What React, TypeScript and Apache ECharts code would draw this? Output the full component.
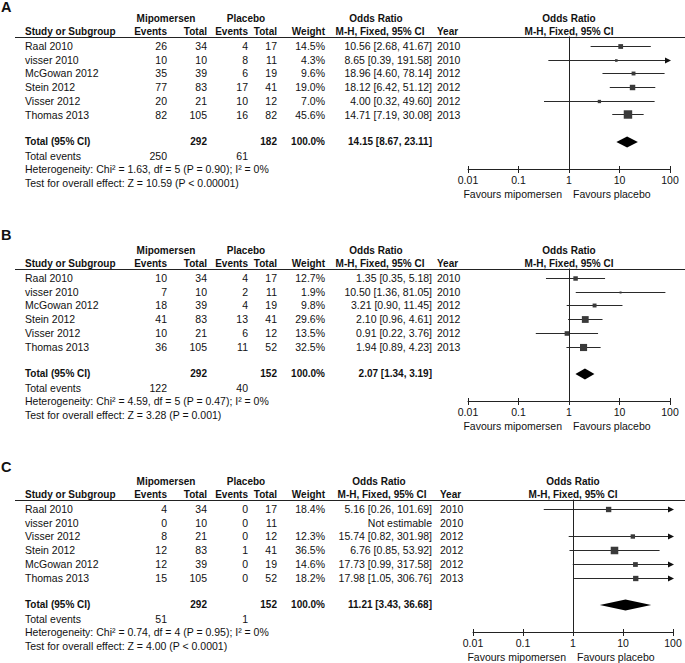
import React, { useEffect, useRef } from "react";
import * as echarts from "echarts";

const XMIN = 0.01;
const XMAX = 100;

// ---------- Panel A ----------
const studiesA = ["Raal 2010", "visser 2010", "McGowan 2012", "Stein 2012", "Visser 2012", "Thomas 2013"];
const mipEventsA = [26, 10, 35, 77, 20, 82];
const mipTotalA = [34, 10, 39, 83, 21, 105];
const plaEventsA = [4, 8, 6, 17, 10, 16];
const plaTotalA = [17, 11, 19, 41, 12, 82];
const weightA = [14.5, 4.3, 9.6, 19.0, 7.0, 45.6];
const orA = [10.56, 8.65, 18.96, 18.12, 4.0, 14.71];
const loA = [2.68, 0.39, 4.6, 6.42, 0.32, 7.19];
const hiA = [41.67, 191.58, 78.14, 51.12, 49.6, 30.08];
const yearA = [2010, 2010, 2012, 2012, 2012, 2013];
const totalsA = [292, 182];
const totalEventsA = [250, 61];
const pooledA = [14.15, 8.67, 23.11];
const hetA = "Heterogeneity: Chi\u00b2 = 1.63, df = 5 (P = 0.90); I\u00b2 = 0%";
const testA = "Test for overall effect: Z = 10.59 (P < 0.00001)";

// ---------- Panel B ----------
const studiesB = ["Raal 2010", "visser 2010", "McGowan 2012", "Stein 2012", "Visser 2012", "Thomas 2013"];
const mipEventsB = [10, 7, 18, 41, 10, 36];
const mipTotalB = [34, 10, 39, 83, 21, 105];
const plaEventsB = [4, 2, 4, 13, 6, 11];
const plaTotalB = [17, 11, 19, 41, 12, 52];
const weightB = [12.7, 1.9, 9.8, 29.6, 13.5, 32.5];
const orB = [1.35, 10.5, 3.21, 2.1, 0.91, 1.94];
const loB = [0.35, 1.36, 0.9, 0.96, 0.22, 0.89];
const hiB = [5.18, 81.05, 11.45, 4.61, 3.76, 4.23];
const yearB = [2010, 2010, 2012, 2012, 2012, 2013];
const totalsB = [292, 152];
const totalEventsB = [122, 40];
const pooledB = [2.07, 1.34, 3.19];
const hetB = "Heterogeneity: Chi\u00b2 = 4.59, df = 5 (P = 0.47); I\u00b2 = 0%";
const testB = "Test for overall effect: Z = 3.28 (P = 0.001)";

// ---------- Panel C ----------
const studiesC = ["Raal 2010", "visser 2010", "Visser 2012", "Stein 2012", "McGowan 2012", "Thomas 2013"];
const mipEventsC = [4, 0, 8, 12, 12, 15];
const mipTotalC = [34, 10, 21, 83, 39, 105];
const plaEventsC = [0, 0, 0, 1, 0, 0];
const plaTotalC = [17, 11, 12, 41, 19, 52];
const weightC = [18.4, null, 12.3, 36.5, 14.6, 18.2];
const orC = [5.16, null, 15.74, 6.76, 17.73, 17.98];
const loC = [0.26, null, 0.82, 0.85, 0.99, 1.05];
const hiC = [101.69, null, 301.98, 53.92, 317.58, 306.76];
const yearC = [2010, 2010, 2012, 2012, 2012, 2013];
const totalsC = [292, 152];
const totalEventsC = [51, 1];
const pooledC = [11.21, 3.43, 36.68];
const hetC = "Heterogeneity: Chi\u00b2 = 0.74, df = 4 (P = 0.95); I\u00b2 = 0%";
const testC = "Test for overall effect: Z = 4.00 (P < 0.0001)";

// ---------- Layout (positions only) ----------
const ROW_H = 13.7;
const FONT = '"Liberation Sans", Arial, Helvetica, sans-serif';
const layoutA = { label: "A", labelY: 7, base: 46, plotLeft: 468, plotWidth: 202, ciRight: 432, yearLeft: 437, orHead: 376, mhHead: 380 };
const layoutB = { label: "B", labelY: 235, base: 278, plotLeft: 468, plotWidth: 202, ciRight: 432, yearLeft: 437, orHead: 376, mhHead: 380 };
const layoutC = { label: "C", labelY: 467, base: 509, plotLeft: 473, plotWidth: 200, ciRight: 432, yearLeft: 440, orHead: 379, mhHead: 382 };

const COL = { study: 25, mipEv: 167, mipTot: 207, plaEv: 248, plaTot: 277, weight: 325, mipHead: 166, plaHead: 246 };

const panels = [
  { lay: layoutA, studies: studiesA, me: mipEventsA, mt: mipTotalA, pe: plaEventsA, pt: plaTotalA, w: weightA, or: orA, lo: loA, hi: hiA, yr: yearA, tot: totalsA, tev: totalEventsA, pooled: pooledA, het: hetA, test: testA },
  { lay: layoutB, studies: studiesB, me: mipEventsB, mt: mipTotalB, pe: plaEventsB, pt: plaTotalB, w: weightB, or: orB, lo: loB, hi: hiB, yr: yearB, tot: totalsB, tev: totalEventsB, pooled: pooledB, het: hetB, test: testB },
  { lay: layoutC, studies: studiesC, me: mipEventsC, mt: mipTotalC, pe: plaEventsC, pt: plaTotalC, w: weightC, or: orC, lo: loC, hi: hiC, yr: yearC, tot: totalsC, tev: totalEventsC, pooled: pooledC, het: hetC, test: testC },
];

function txt(text: string, x: number, y: number, align: string = "left", bold = false, size = 10.5) {
  return {
    type: "text",
    x,
    y,
    silent: true,
    style: {
      text,
      fill: "#111",
      fontFamily: FONT,
      fontSize: size,
      fontWeight: bold ? "bold" : "normal",
      align,
      verticalAlign: "middle",
      textAlign: align,
      textVerticalAlign: "middle",
    },
  };
}

const fmtCI = (o: number, l: number, h: number) => `${o.toFixed(2)} [${l.toFixed(2)}, ${h.toFixed(2)}]`;

function buildOption() {
  const grid: any[] = [];
  const xAxis: any[] = [];
  const yAxis: any[] = [];
  const series: any[] = [];
  const graphic: any[] = [];

  panels.forEach((p, i) => {
    const L = p.lay;
    const b = L.base;
    const lineY = b - 9.5;
    const axisY = b + 123;
    const vline = L.plotLeft + L.plotWidth / 2;

    grid.push({ left: L.plotLeft, width: L.plotWidth, top: lineY, height: axisY - lineY });
    const axisBase = {
      type: "log",
      logBase: 10,
      min: XMIN,
      max: XMAX,
      splitNumber: 4,
      gridIndex: i,
      position: "bottom",
      splitLine: { show: false },
    };
    xAxis.push({
      ...axisBase,
      axisLine: { show: true, onZero: false, lineStyle: { color: "#222", width: 1 } },
      axisTick: { show: true, inside: false, length: 4, lineStyle: { color: "#222", width: 1 } },
      axisLabel: {
        show: true,
        margin: 5,
        color: "#111",
        fontFamily: FONT,
        fontSize: 10.5,
        showMinLabel: true,
        showMaxLabel: true,
        formatter: (v: number) => String(parseFloat(Number(v).toPrecision(3))),
      },
    });
    xAxis.push({
      ...axisBase,
      axisLine: { show: false, onZero: false },
      axisTick: { show: true, inside: true, length: 3, lineStyle: { color: "#222", width: 1 } },
      axisLabel: { show: false },
    });
    yAxis.push({
      type: "value",
      gridIndex: i,
      inverse: true,
      min: (lineY - b) / ROW_H,
      max: (axisY - b) / ROW_H,
      show: false,
      axisLine: { onZero: false },
    });

    const ciData: any[] = [];
    p.or.forEach((o, r) => {
      if (o == null) return;
      ciData.push([o, p.lo[r], p.hi[r], r, p.w[r]]);
    });

    series.push({
      type: "custom",
      xAxisIndex: i * 2,
      yAxisIndex: i,
      clip: false,
      encode: { x: [0, 1, 2], y: 3 },
      data: ciData,
      renderItem: (_params: any, api: any) => {
        const o = api.value(0);
        const lo = api.value(1);
        const hi = api.value(2);
        const row = api.value(3);
        const w = api.value(4);
        const p0 = api.coord([Math.max(lo, XMIN), row]);
        const p1 = api.coord([Math.min(hi, XMAX), row]);
        const pc = api.coord([o, row]);
        const y = Math.round(p0[1]) + 0.5;
        const side = Math.max(2, 1.25 * Math.sqrt(w));
        const children: any[] = [
          { type: "line", shape: { x1: p0[0], y1: y, x2: p1[0], y2: y }, style: { stroke: "#2a2a2a", lineWidth: 1 } },
          { type: "rect", shape: { x: pc[0] - side / 2, y: y - side / 2, width: side, height: side }, style: { fill: "#3a3a3a" } },
        ];
        if (hi > XMAX) {
          children.push({
            type: "polygon",
            shape: { points: [[p1[0] + 1, y], [p1[0] - 5, y - 3], [p1[0] - 5, y + 3]] },
            style: { fill: "#111" },
          });
        }
        if (lo < XMIN) {
          children.push({
            type: "polygon",
            shape: { points: [[p0[0] - 1, y], [p0[0] + 5, y - 3], [p0[0] + 5, y + 3]] },
            style: { fill: "#111" },
          });
        }
        return { type: "group", children };
      },
      markLine: {
        silent: true,
        symbol: ["none", "none"],
        label: { show: false },
        lineStyle: { color: "#222", width: 1, type: "solid" },
        data: [{ xAxis: 1 }],
      },
    });

    series.push({
      type: "custom",
      xAxisIndex: i * 2,
      yAxisIndex: i,
      clip: false,
      encode: { x: [0, 1, 2], y: 3 },
      data: [[p.pooled[0], p.pooled[1], p.pooled[2], 7]],
      renderItem: (_params: any, api: any) => {
        const row = api.value(3);
        const pl = api.coord([api.value(1), row]);
        const ph = api.coord([api.value(2), row]);
        const pc = api.coord([api.value(0), row]);
        const h = 5.5;
        return {
          type: "polygon",
          shape: { points: [[pl[0], pl[1]], [pc[0], pc[1] - h], [ph[0], ph[1]], [pc[0], pc[1] + h]] },
          style: { fill: "#000" },
        };
      },
    });

    // ---- table texts ----
    graphic.push(txt(L.label, 1, L.labelY, "left", true, 14.5));
    const h1 = b - 27.5;
    const h2 = b - 14.5;
    graphic.push(txt("Mipomersen", COL.mipHead, h1, "center", true, 10));
    graphic.push(txt("Placebo", COL.plaHead, h1, "center", true, 10));
    graphic.push(txt("Odds Ratio", L.orHead, h1, "center", true, 10));
    graphic.push(txt("Odds Ratio", vline, h1, "center", true, 10));
    graphic.push(txt("Study or Subgroup", COL.study, h2, "left", true, 10));
    graphic.push(txt("Events", COL.mipEv, h2, "right", true, 10));
    graphic.push(txt("Total", COL.mipTot, h2, "right", true, 10));
    graphic.push(txt("Events", COL.plaEv, h2, "right", true, 10));
    graphic.push(txt("Total", COL.plaTot, h2, "right", true, 10));
    graphic.push(txt("Weight", COL.weight, h2, "right", true, 10));
    graphic.push(txt("M-H, Fixed, 95% CI", L.mhHead, h2, "center", true, 10));
    graphic.push(txt("Year", L.yearLeft, h2, "left", true, 10));
    graphic.push(txt("M-H, Fixed, 95% CI", vline, h2, "center", true, 10));
    graphic.push({
      type: "line",
      silent: true,
      shape: { x1: 15, y1: Math.round(lineY) + 0.5, x2: 685, y2: Math.round(lineY) + 0.5 },
      style: { stroke: "#222", lineWidth: 1 },
    });

    p.studies.forEach((s, r) => {
      const y = b + r * ROW_H;
      graphic.push(txt(s, COL.study, y));
      graphic.push(txt(String(p.me[r]), COL.mipEv, y, "right"));
      graphic.push(txt(String(p.mt[r]), COL.mipTot, y, "right"));
      graphic.push(txt(String(p.pe[r]), COL.plaEv, y, "right"));
      graphic.push(txt(String(p.pt[r]), COL.plaTot, y, "right"));
      if (p.w[r] != null) graphic.push(txt(`${(p.w[r] as number).toFixed(1)}%`, COL.weight, y, "right"));
      const o = p.or[r];
      graphic.push(
        txt(o == null ? "Not estimable" : fmtCI(o, p.lo[r] as number, p.hi[r] as number), L.ciRight, y, "right")
      );
      graphic.push(txt(String(p.yr[r]), L.yearLeft, y));
    });

    const ty = b + 7 * ROW_H;
    graphic.push(txt("Total (95% CI)", COL.study, ty, "left", true, 10));
    graphic.push(txt(String(p.tot[0]), COL.mipTot, ty, "right", true, 10));
    graphic.push(txt(String(p.tot[1]), COL.plaTot, ty, "right", true, 10));
    graphic.push(txt("100.0%", COL.weight, ty, "right", true, 10));
    graphic.push(txt(fmtCI(p.pooled[0], p.pooled[1], p.pooled[2]), L.ciRight, ty, "right", true, 10));

    const ey = b + 8 * ROW_H;
    graphic.push(txt("Total events", COL.study, ey));
    graphic.push(txt(String(p.tev[0]), COL.mipEv, ey, "right"));
    graphic.push(txt(String(p.tev[1]), COL.plaEv, ey, "right"));
    graphic.push(txt(p.het, COL.study, b + 9 * ROW_H));
    graphic.push(txt(p.test, COL.study, b + 10 * ROW_H));

    const fy = b + 148;
    graphic.push(txt("Favours mipomersen", vline - 7, fy, "right"));
    graphic.push(txt("Favours placebo", vline + 4, fy, "left"));
  });

  return {
    animation: false,
    backgroundColor: "#ffffff",
    grid,
    xAxis,
    yAxis,
    series,
    graphic,
  };
}

export default function App() {
  const ref = useRef<HTMLDivElement>(null);
  useEffect(() => {
    document.body.style.margin = "0";
    if (!ref.current) return;
    const chart = echarts.init(ref.current, undefined, { renderer: "svg" });
    chart.setOption(buildOption() as any);
    return () => chart.dispose();
  }, []);
  return <div ref={ref} style={{ width: 685, height: 663, background: "#fff" }} />;
}
